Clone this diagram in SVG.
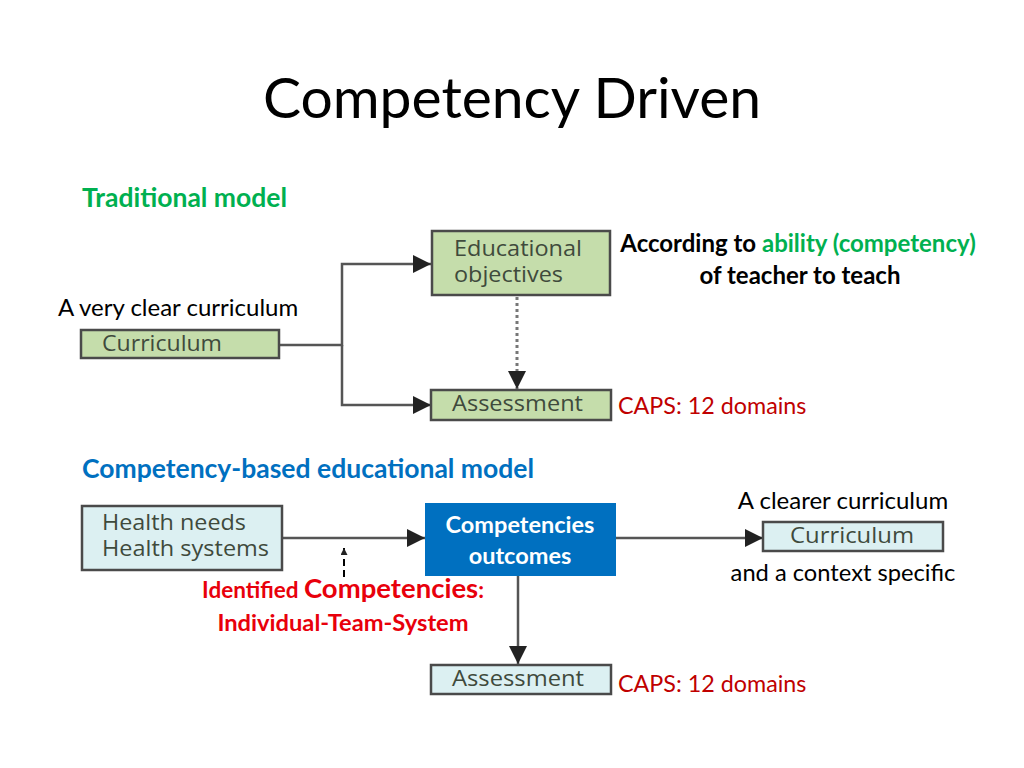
<svg xmlns="http://www.w3.org/2000/svg" width="1024" height="768" viewBox="0 0 1024 768">
<defs>
<style>
.t{font-family:Lato,"Liberation Sans",sans-serif}
.box{font-family:"Open Sans","Liberation Sans",sans-serif;font-size:21px;fill:#3f4a3c}
.g{fill:#c5ddab;stroke:#4a4a4a;stroke-width:2.5}
.b{fill:#dcf0f2;stroke:#4a4a4a;stroke-width:2.5}
.ln{stroke:#555;stroke-width:2.5;fill:none}
.red{fill:#c00000}
.bred{fill:#e8000b}
</style>
<marker id="ah" viewBox="0 0 10 10" refX="10" refY="5" markerWidth="7" markerHeight="7" markerUnits="userSpaceOnUse" orient="auto">
<path d="M0,0 L10,5 L0,10 z" fill="#222"/>
</marker>
<marker id="ahL" viewBox="0 0 10 10" refX="10" refY="5" markerWidth="18" markerHeight="18" markerUnits="userSpaceOnUse" orient="auto">
<path d="M0,0 L10,5 L0,10 z" fill="#222"/>
</marker>
</defs>
<rect width="1024" height="768" fill="#fff"/>
<text class="t" x="512" y="118" font-size="57" text-anchor="middle" fill="#000">Competency Driven</text>
<text class="t" x="82" y="207" font-size="26.5" font-weight="bold" fill="#00b050">Traditional model</text>
<text class="t" x="798" y="252" font-size="24" font-weight="bold" text-anchor="middle" fill="#000">According to <tspan fill="#00b050">ability (competency)</tspan></text>
<text class="t" x="800" y="284" font-size="24" font-weight="bold" text-anchor="middle" fill="#000">of teacher to teach</text>
<text class="t" x="58" y="316" font-size="24" fill="#000">A very clear curriculum</text>
<text class="t red" x="618" y="414" font-size="23.3">CAPS: 12 domains</text>
<text class="t" x="82" y="478" font-size="26.5" font-weight="bold" fill="#0070c0">Competency-based educational model</text>
<text class="t" x="843" y="509" font-size="24" text-anchor="middle" fill="#000">A clearer curriculum</text>
<text class="t" x="843" y="581" font-size="23.7" text-anchor="middle" fill="#000">and a context specific</text>
<text class="t bred" x="343" y="598" font-size="22.5" font-weight="bold" text-anchor="middle">Identified <tspan font-size="27.5">Competencies</tspan>:</text>
<text class="t bred" x="343" y="631" font-size="23.7" font-weight="bold" text-anchor="middle">Individual-Team-System</text>
<text class="t red" x="618" y="692" font-size="23.3">CAPS: 12 domains</text>
<g id="connectors">
<path class="ln" d="M279,345 H342 V264 H431" marker-end="url(#ahL)"/>
<path class="ln" d="M342,345 V405 H431" marker-end="url(#ahL)"/>
<path d="M517,297 V389" stroke="#777" stroke-width="3" stroke-dasharray="3,3" fill="none" marker-end="url(#ahL)"/>
<path class="ln" d="M282,538 H425" marker-end="url(#ahL)"/>
<path class="ln" d="M616,538 H763" marker-end="url(#ahL)"/>
<path class="ln" d="M518,576 V664" marker-end="url(#ahL)"/>
<path d="M344,577 V548" stroke="#000" stroke-width="2" stroke-dasharray="7,4" fill="none" marker-end="url(#ah)"/>
</g>
<g id="n-edu"><rect class="g" x="432" y="231" width="178" height="64"/><text class="box" x="454" y="256" font-size="19" textLength="128" lengthAdjust="spacingAndGlyphs">Educational</text><text class="box" x="454" y="282" font-size="19" textLength="109" lengthAdjust="spacingAndGlyphs">objectives</text></g>
<g id="n-curr1"><rect class="g" x="81" y="330" width="198" height="28"/><text class="box" x="102" y="351" textLength="120" lengthAdjust="spacingAndGlyphs">Curriculum</text></g>
<g id="n-assess1"><rect class="g" x="431" y="390" width="180" height="30"/><text class="box" x="452" y="411" textLength="131" lengthAdjust="spacingAndGlyphs">Assessment</text></g>
<g id="n-health"><rect class="b" x="82" y="506" width="200" height="64"/><text class="box" x="102" y="530" textLength="144" lengthAdjust="spacingAndGlyphs">Health needs</text><text class="box" x="102" y="556" textLength="167" lengthAdjust="spacingAndGlyphs">Health systems</text></g>
<g id="n-comp"><rect x="425" y="503" width="191" height="73" fill="#0070c0"/><text class="t" x="520" y="533" font-size="23.5" font-weight="bold" fill="#fff" text-anchor="middle">Competencies</text><text class="t" x="520" y="564" font-size="23.5" font-weight="bold" fill="#fff" text-anchor="middle">outcomes</text></g>
<g id="n-curr2"><rect class="b" x="763" y="522" width="180" height="29"/><text class="box" x="790" y="543" textLength="124" lengthAdjust="spacingAndGlyphs">Curriculum</text></g>
<g id="n-assess2"><rect class="b" x="431" y="665" width="180" height="29"/><text class="box" x="452" y="686" textLength="132" lengthAdjust="spacingAndGlyphs">Assessment</text></g>
</svg>
